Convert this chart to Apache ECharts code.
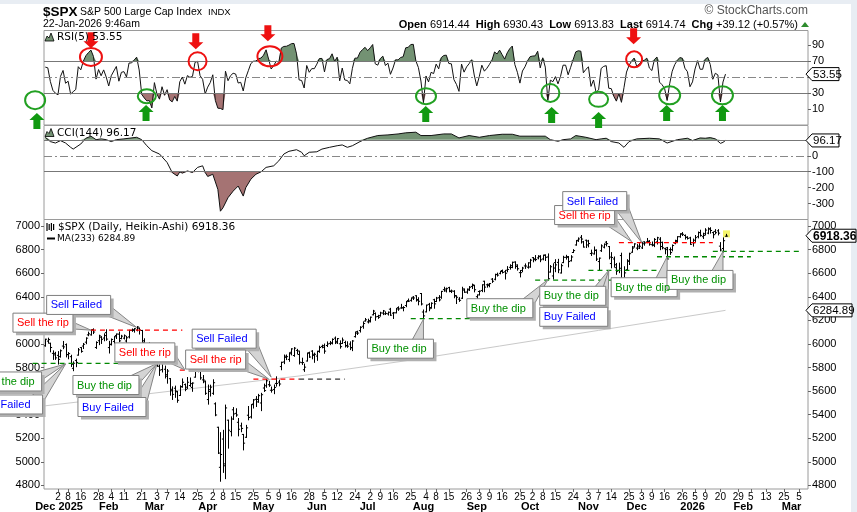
<!DOCTYPE html>
<html><head><meta charset="utf-8">
<script src="https://cdn.jsdelivr.net/npm/echarts@6/dist/echarts.min.js"></script>
<style>html,body{margin:0;padding:0;background:#fff}#c{width:857px;height:512px}</style>
</head><body><div id="c"></div>
<script>
// ---------- calendar (trading days) ----------
const holidays=['2024-12-25','2025-01-01','2025-01-09','2025-01-20','2025-02-17','2025-04-18','2025-05-26','2025-06-19','2025-07-04','2025-09-01','2025-11-27','2025-12-25','2026-01-01','2026-01-19','2026-02-16'];
const slotCount=301;
const dates=[];
(function(){let d=new Date(Date.UTC(2024,11,24));while(dates.length<slotCount){const w=d.getUTCDay();const s=d.toISOString().slice(0,10);if(w!==0&&w!==6&&holidays.indexOf(s)<0)dates.push(s);d.setUTCDate(d.getUTCDate()+1);}})();

// ---------- price bars ----------
const barOpen=[5984,6024,6006,5920,5920,5903,5892,5982,5994,5910,5892,5793,5859,5905,5969,5982,6015,6077,6077,6121,5970,6027,6057,6050,6096,5969,5998,6021,6072,6083,6046,6049,6025,6060,6115,6121,6118,6134,6114,6027,5983,5971,5981,5856,5968,5811,5782,5785,5726,5705,5603,5624,5594,5563,5635,5655,5633,5647,5631,5718,5776,5771,5695,5679,5528,5597,5581,5492,5293,4953,5193,4966,5353,5256,5441,5411,5335,5305,5232,5208,5395,5381,5490,5530,5508,5499,5626,5645,5654,5607,5614,5665,5676,5808,5847,5896,5869,5929,5902,5945,5910,5841,5781,5855,5925,5939,5903,5897,5939,5979,5985,5987,6005,6009,6049,6010,6001,6004,6012,5987,5999,5970,6062,6104,6113,6150,6194,6187,6188,6247,6259,6233,6240,6262,6255,6255,6295,6261,6264,6308,6305,6307,6326,6368,6370,6397,6409,6377,6428,6271,6272,6336,6309,6375,6360,6392,6397,6461,6450,6478,6445,6447,6406,6380,6388,6457,6440,6458,6488,6495,6401,6445,6454,6532,6502,6506,6550,6549,6590,6599,6623,6612,6626,6650,6649,6695,6670,6605,6624,6662,6651,6653,6732,6722,6730,6745,6721,6754,6738,6610,6577,6690,6692,6602,6690,6735,6741,6706,6776,6840,6880,6905,6866,6880,6874,6767,6764,6793,6699,6791,6821,6864,6826,6682,6721,6647,6623,6750,6550,6630,6701,6778,6823,6813,6830,6815,6866,6866,6872,6842,6838,6866,6889,6862,6808,6816,6800,6800,6855,6870,6910,6935,6920,6905,6900,6860,6880,6910,6945,6910,6935,6940,6975,6945,6955,6960,6830,6810,6914];
const barHigh=[6040,6049,6006,5941,5929,5935,5949,6021,6000,5927,5904,5848,5871,5961,5969,6004,6052,6100,6119,6128,6018,6074,6062,6086,6120,6022,6042,6062,6084,6101,6073,6076,6064,6116,6127,6130,6147,6134,6115,6044,5993,6010,5994,5959,5986,5865,5861,5812,5783,5706,5636,5642,5597,5645,5703,5660,5715,5711,5670,5775,5787,5784,5732,5685,5651,5650,5696,5500,5293,5247,5267,5481,5353,5381,5460,5450,5367,5328,5232,5309,5469,5485,5528,5553,5572,5581,5659,5700,5683,5634,5652,5721,5692,5845,5906,5906,5925,5959,5969,5954,5939,5879,5829,5922,5930,5943,5922,5938,5981,5990,5999,6017,6021,6043,6059,6046,6026,6050,6023,6018,6018,6028,6101,6108,6146,6187,6216,6210,6228,6285,6263,6243,6269,6284,6272,6271,6302,6267,6301,6315,6336,6316,6360,6381,6390,6402,6409,6392,6428,6288,6329,6344,6349,6379,6395,6410,6446,6481,6474,6481,6457,6452,6409,6393,6481,6467,6466,6487,6508,6498,6416,6450,6502,6532,6508,6513,6555,6592,6601,6616,6627,6624,6656,6672,6694,6697,6671,6623,6650,6679,6689,6718,6733,6750,6749,6749,6753,6756,6764,6665,6680,6715,6718,6677,6744,6752,6742,6749,6800,6877,6900,6920,6870,6881,6879,6796,6823,6799,6729,6841,6849,6869,6827,6775,6738,6683,6686,6770,6655,6715,6770,6826,6850,6843,6851,6862,6867,6895,6877,6865,6894,6905,6902,6864,6812,6819,6815,6840,6880,6910,6935,6945,6925,6910,6905,6890,6920,6950,6965,6940,6978,6985,6986,6950,6970,6970,6860,6900,6930];
const barLow=[5981,6007,5933,5869,5869,5829,5888,5960,5890,5874,5809,5773,5807,5905,5930,5961,6002,6070,6075,6088,5962,5994,6004,6027,6031,5923,5991,6007,6046,6019,6044,6042,6004,6051,6107,6100,6111,6084,6009,5977,5909,5944,5858,5837,5810,5733,5762,5711,5667,5565,5529,5547,5505,5563,5633,5603,5622,5640,5598,5718,5764,5700,5671,5572,5489,5558,5572,5391,5070,4835,4910,4857,5116,5220,5359,5386,5220,5255,5101,5207,5356,5371,5456,5469,5505,5434,5597,5632,5640,5591,5578,5642,5645,5781,5833,5867,5853,5907,5895,5915,5830,5826,5767,5855,5886,5874,5844,5861,5929,5967,5921,5978,5994,6000,6003,6004,5964,6004,5974,5971,5952,5943,6058,6080,6101,6133,6194,6178,6187,6247,6201,6217,6236,6249,6250,6245,6242,6216,6264,6285,6303,6281,6316,6360,6363,6377,6363,6332,6331,6212,6272,6282,6303,6303,6360,6365,6387,6447,6441,6443,6436,6392,6343,6361,6386,6438,6430,6454,6470,6442,6361,6415,6444,6443,6482,6485,6522,6544,6576,6595,6602,6551,6612,6635,6647,6642,6626,6569,6613,6641,6643,6651,6697,6706,6722,6698,6714,6708,6551,6610,6551,6613,6605,6602,6690,6720,6654,6704,6776,6838,6870,6856,6822,6818,6824,6751,6763,6708,6631,6785,6815,6832,6722,6646,6652,6591,6605,6560,6565,6625,6674,6778,6823,6800,6810,6810,6838,6859,6838,6832,6826,6848,6800,6807,6765,6720,6760,6790,6850,6865,6905,6920,6890,6890,6845,6830,6870,6900,6915,6895,6925,6935,6940,6900,6935,6925,6790,6780,6914];
const barClose=[6040,6037,5970,5907,5882,5869,5942,5975,5909,5918,5827,5836,5843,5950,5937,5997,6049,6086,6119,6101,6012,6068,6039,6071,6041,5994,6038,6061,6084,6026,6066,6069,6052,6115,6115,6129,6144,6118,6013,5983,5955,5956,5861,5955,5850,5778,5843,5739,5770,5615,5572,5599,5522,5639,5675,5615,5675,5663,5668,5768,5777,5712,5693,5581,5612,5633,5671,5397,5074,5062,4982,5457,5268,5363,5406,5397,5276,5283,5158,5288,5376,5485,5525,5529,5561,5569,5604,5687,5650,5607,5631,5664,5660,5844,5886,5892,5917,5958,5964,5940,5845,5842,5803,5922,5889,5912,5912,5936,5970,5971,5939,6000,6006,6038,6022,6045,5977,6033,5983,5981,5967,6025,6092,6092,6141,6173,6205,6198,6227,6279,6230,6226,6263,6280,6259,6269,6244,6264,6297,6297,6306,6309,6359,6363,6389,6390,6371,6362,6339,6238,6330,6299,6345,6340,6389,6374,6446,6466,6469,6450,6449,6411,6396,6370,6467,6439,6465,6481,6502,6460,6416,6448,6502,6482,6495,6512,6532,6588,6584,6615,6607,6600,6632,6664,6693,6657,6638,6605,6644,6661,6688,6711,6715,6716,6740,6714,6753,6735,6553,6655,6644,6671,6629,6664,6735,6735,6699,6738,6792,6875,6891,6890,6822,6840,6852,6771,6796,6720,6728,6832,6846,6851,6737,6734,6672,6617,6642,6539,6603,6705,6766,6813,6849,6813,6829,6850,6857,6870,6846,6840,6887,6901,6827,6816,6800,6721,6775,6835,6878,6910,6932,6930,6905,6896,6845,6858,6902,6945,6921,6921,6966,6977,6963,6927,6944,6940,6797,6876,6915];

// ---------- MA(233) ----------
const maDay=[0,41,100,141,179,218,268];
const maValue=[5475,5578,5728,5854,5982,6115,6285];

// ---------- RSI(5) ----------
const rsi=[62.3,61.4,44.3,33.3,29.7,27.7,50.7,58.1,42.1,44.7,28.6,31.6,34.3,62.8,58.9,69.7,76.5,80.4,83.5,75.5,47.3,59.2,51.5,58.8,50.0,38.7,51.5,57.4,63.1,44.7,55.8,56.6,50.0,67.4,67.5,71.0,74.7,58.7,28.2,23.8,20.1,20.5,11.3,42.9,28.6,22.3,37.8,27.1,34.1,21.3,18.9,25.6,19.8,44.0,49.9,41.0,51.7,49.5,50.7,68.2,69.5,51.5,47.0,28.8,37.3,43.0,52.7,20.7,11.0,10.7,9.1,57.2,45.3,51.6,54.6,53.7,42.4,43.3,32.5,49.0,57.8,66.7,69.6,69.9,72.8,73.6,77.2,83.9,72.2,59.9,64.2,69.8,68.2,86.2,88.1,88.3,89.7,91.6,91.8,78.8,46.3,45.6,36.2,64.3,55.8,60.4,60.3,66.0,73.0,73.1,56.3,71.7,72.9,78.9,69.4,74.7,45.2,61.1,46.2,45.6,41.4,60.8,73.5,73.5,80.7,84.2,87.0,82.9,86.3,90.5,66.4,64.7,72.9,76.0,64.3,67.2,53.3,61.2,71.4,71.3,74.3,75.2,86.4,87.0,90.5,90.7,70.1,61.8,44.9,17.9,51.2,43.8,55.8,54.2,66.0,60.1,74.1,76.8,77.2,66.8,66.4,46.7,40.7,32.0,66.1,56.0,62.6,66.6,71.5,52.4,38.8,50.6,64.7,57.2,60.9,65.7,71.0,81.2,78.7,83.5,77.8,72.3,80.1,85.3,88.6,65.5,55.8,42.3,57.4,62.7,70.1,75.3,76.1,76.3,82.1,61.3,73.9,62.3,20.8,46.0,44.1,50.4,41.4,50.6,64.7,64.7,52.7,62.1,71.9,81.3,82.7,82.2,55.2,59.5,62.6,38.2,46.2,30.9,33.9,60.6,63.2,64.1,35.9,35.4,25.8,19.8,29.1,18.3,36.6,56.1,64.4,69.8,73.6,63.5,66.1,69.7,70.8,73.5,61.1,58.0,71.8,74.9,43.5,40.3,35.6,20.6,41.5,57.1,65.4,70.7,74.2,73.4,60.9,56.6,37.8,43.8,60.0,70.3,59.6,59.6,72.1,74.4,65.4,47.1,54.6,52.5,18.8,43.7,53.55];

// ---------- CCI(144) ----------
const cciDay=[0,2,4,6,8,10,11,14,16,18,20,22,24,26,28,31,33,36,38,40,42,45,48,50,52,53,54,56,58,60,62,63,64,66,68,69,70,72,74,76,77,78,79,81,83,85,87,90,92,94,96,99,101,102,104,107,109,112,115,117,119,121,124,127,131,135,139,142,146,148,152,157,160,163,167,171,175,180,184,187,191,197,199,202,204,207,209,213,217,219,221,223,226,228,230,233,238,242,245,249,253,255,258,260,262,264,266,267,268];
const cciValue=[116,89,80,95,80,53,42,74,110,123,101,106,101,89,101,106,110,116,101,63,32,11,-42,-105,-127,-101,-109,-95,-105,-73,-63,-105,-130,-116,-211,-348,-327,-263,-222,-190,-222,-253,-200,-147,-116,-101,-73,-63,-32,11,28,38,22,0,22,25,42,53,63,68,53,63,89,110,127,131,137,144,148,127,127,137,137,112,127,116,127,135,135,123,123,123,101,91,101,106,127,116,101,106,110,89,80,53,89,106,110,106,80,101,110,95,112,110,114,106,78,84,96.17];

// ---------- axis tick labels ----------
const dayTickDates=['2025-01-02','2025-01-08','2025-01-16','2025-01-28','2025-02-04','2025-02-11','2025-02-21','2025-03-03','2025-03-07','2025-03-14','2025-03-25','2025-04-02','2025-04-08','2025-04-15','2025-04-25','2025-05-05','2025-05-09','2025-05-16','2025-05-28','2025-06-05','2025-06-12','2025-06-24','2025-07-02','2025-07-09','2025-07-16','2025-07-25','2025-08-04','2025-08-08','2025-08-15','2025-08-26','2025-09-03','2025-09-09','2025-09-16','2025-09-25','2025-10-02','2025-10-08','2025-10-15','2025-10-24','2025-11-03','2025-11-07','2025-11-14','2025-11-25','2025-12-03','2025-12-09','2025-12-16','2025-12-26','2026-01-05','2026-01-09','2026-01-20','2026-01-29','2026-02-05','2026-02-13','2026-02-25','2026-03-05'];
const monthLabelText=['Dec','2025','Feb','Mar','Apr','May','Jun','Jul','Aug','Sep','Oct','Nov','Dec','2026','Feb','Mar'];
const monthLabelDates=['2024-12-24','2025-01-10','2025-02-03','2025-02-28','2025-03-31','2025-05-01','2025-06-02','2025-07-01','2025-08-01','2025-09-02','2025-10-01','2025-11-03','2025-12-01','2026-01-02','2026-02-02','2026-03-02'];
const priceTicks=[4800,5000,5200,5400,5600,5800,6000,6200,6400,6600,6800,7000];
const rsiTicks=[10,30,50,70,90];
const cciTicks=[100,0,-100,-200,-300];

// ---------- annotations (anchor = [trading day, price]) ----------
const callouts=[
 {t:'Sell the rip',tip:[18,6117],dx:-78,dy:-17},
 {t:'Sell Failed',tip:[36,6140],dx:-90,dy:-32},
 {t:'Buy the dip',tip:[8,5830],dx:-90,dy:8},
 {t:'Buy Failed',tip:[8,5830],dx:-91,dy:31},
 {t:'Buy the dip',tip:[44,5834],dx:-84,dy:12},
 {t:'Buy Failed',tip:[44,5834],dx:-79,dy:34},
 {t:'Sell the rip',tip:[55,5780],dx:-70,dy:-27},
 {t:'Sell the rip',tip:[88,5702],dx:-83,dy:-29},
 {t:'Sell Failed',tip:[89,5718],dx:-79,dy:-48},
 {t:'Buy the dip',tip:[149,6210],dx:-56,dy:20},
 {t:'Buy the dip',tip:[198,6545],dx:-81,dy:19},
 {t:'Buy the dip',tip:[222,6625],dx:-69,dy:16},
 {t:'Buy Failed',tip:[222,6625],dx:-69,dy:37},
 {t:'Sell the rip',tip:[231,6869],dx:-77,dy:-36},
 {t:'Sell Failed',tip:[235,6860],dx:-79,dy:-51},
 {t:'Buy the dip',tip:[245,6740],dx:-56,dy:21},
 {t:'Buy the dip',tip:[267,6785],dx:-56,dy:19}
];
const dashLevels=[
 [6117,18,54,'#ff0000'],[5835,-5,53,'#008800'],[5778,53,81,'#ff0000'],[5702,82,100,'#ff0000'],[5702,100,118,'#333333'],
 [6215,144,180,'#008800'],[6541,193,224,'#008800'],[6625,214,245,'#008800'],[6860,226,263,'#ff0000'],
 [6740,241,278,'#008800'],[6785,263,298,'#008800']
];
const rsiCircles=[[18,75,11,9,'r'],[60,69.6,9,9,'r'],[88.5,75.8,12.5,10,'r'],[232,72,8,8,'r'],
 [-4,21,10,9,'g'],[40,26,9,7,'g'],[150,26,10,8,'g'],[199,30,9,9,'g'],[218,22,9.5,7.5,'g'],[246,27,10.5,9,'g'],[266.8,27,10.5,9,'g']];
const rsiArrows=[[18,85.7,'d'],[59.3,84.6,'d'],[87.7,94.5,'d'],[231.8,90.8,'d'],
 [-3.3,4.9,'u'],[39.7,14.9,'u'],[149.9,13.7,'u'],[199.5,12.4,'u'],[218,6.2,'u'],[244.8,14.9,'u'],[266.8,14.9,'u']];

// ---------- build ----------
const FONT='"Liberation Sans", Arial, sans-serif';
const FONT2='"DejaVu Sans", Verdana, sans-serif';
const GREEN_FILL='#739273', BROWN_FILL='#a57373';
const tickSet=new Set(dayTickDates);
const monthMap={};monthLabelDates.forEach((d,k)=>{monthMap[d]=monthLabelText[k];});
const ohlc=barOpen.map((o,i)=>[i,o,barHigh[i],barLow[i],barClose[i]]);
const cciPairs=cciDay.map((d,k)=>[d,cciValue[k]]);
const maPairs=maDay.map((d,k)=>[d,maValue[k]]);

const gridBase={left:44,right:49,show:true,borderColor:'#9a9a9a',borderWidth:1,backgroundColor:'#fff'};
const hiddenX=g=>({type:'category',gridIndex:g,data:dates,boundaryGap:true,axisLine:{show:false},axisTick:{show:false},axisLabel:{show:false},splitLine:{show:false}});
const yLab={fontSize:11,color:'#000',fontFamily:FONT,margin:4,formatter:v=>String(v)};

const chart=echarts.init(document.getElementById('c'),null,{renderer:'canvas'});
const fillSeries=(xi,stack,data,color)=>({type:'line',xAxisIndex:xi,yAxisIndex:xi,stack:stack,stackStrategy:'all',data:data,symbol:'none',lineStyle:{opacity:0,width:0},areaStyle:color?{color:color,opacity:1}:undefined,silent:true,z:1});
chart.setOption({
 animation:false,backgroundColor:'#fff',
 grid:[Object.assign({top:30.5,height:94.5},gridBase),Object.assign({top:125.5,height:94},gridBase),Object.assign({top:219.5,height:272.5},gridBase)],
 xAxis:[hiddenX(0),hiddenX(1),
  {type:'category',gridIndex:2,data:dates,boundaryGap:true,axisLine:{show:false},splitLine:{show:false},
   axisTick:{show:true,length:3,alignWithLabel:true,interval:(i,v)=>tickSet.has(v),lineStyle:{color:'#666'}},
   axisLabel:{interval:(i,v)=>tickSet.has(v),formatter:v=>String(+v.slice(8)),fontSize:10,color:'#000',fontFamily:FONT,margin:3}},
  {type:'category',gridIndex:2,data:dates,boundaryGap:true,position:'bottom',offset:9,axisLine:{show:false},axisTick:{show:false},splitLine:{show:false},
   axisLabel:{interval:(i,v)=>monthMap[v]!==undefined,formatter:v=>monthMap[v]||'',fontSize:11,fontWeight:'bold',color:'#000',fontFamily:FONT,margin:3}}],
 yAxis:[
  {type:'value',gridIndex:0,position:'right',min:-10,max:108,splitLine:{show:false},axisLine:{show:false},
   axisTick:{show:true,length:3,customValues:rsiTicks,lineStyle:{color:'#666'}},axisLabel:Object.assign({customValues:rsiTicks},yLab)},
  {type:'value',gridIndex:1,position:'right',min:-400,max:190,splitLine:{show:false},axisLine:{show:false},
   axisTick:{show:true,length:3,customValues:cciTicks,lineStyle:{color:'#666'}},axisLabel:Object.assign({customValues:cciTicks},yLab)},
  {type:'value',gridIndex:2,position:'right',min:4769,max:7056,splitLine:{show:false},axisLine:{show:false},
   axisTick:{show:true,length:3,customValues:priceTicks,lineStyle:{color:'#666'}},axisLabel:Object.assign({customValues:priceTicks},yLab)},
  {type:'value',gridIndex:2,position:'left',min:4769,max:7056,splitLine:{show:false},axisLine:{show:false},
   axisTick:{show:true,length:3,customValues:priceTicks,lineStyle:{color:'#666'}},axisLabel:Object.assign({customValues:priceTicks},yLab)}
 ],
 series:[
  fillSeries(0,'rh',rsi.map(()=>70)),
  fillSeries(0,'rh',rsi.map(v=>Math.max(v-70,0)),GREEN_FILL),
  fillSeries(0,'rl',rsi.map(v=>Math.min(v,30))),
  fillSeries(0,'rl',rsi.map(v=>30-Math.min(v,30)),BROWN_FILL),
  {type:'line',xAxisIndex:0,yAxisIndex:0,data:rsi,symbol:'none',lineStyle:{color:'#111',width:1},silent:true,z:4,
   markLine:{silent:true,symbol:'none',label:{show:false},animation:false,
    data:[{yAxis:70,lineStyle:{color:'#777',width:1,type:'solid'}},{yAxis:30,lineStyle:{color:'#777',width:1,type:'solid'}},{yAxis:50,lineStyle:{color:'#888',width:1,type:[8,3,2,3]}}]}},
  fillSeries(1,'ch',cciPairs.map(p=>[p[0],100])),
  fillSeries(1,'ch',cciPairs.map(p=>[p[0],Math.max(p[1]-100,0)]),GREEN_FILL),
  fillSeries(1,'cl',cciPairs.map(p=>[p[0],Math.min(p[1],-100)])),
  fillSeries(1,'cl',cciPairs.map(p=>[p[0],-100-Math.min(p[1],-100)]),BROWN_FILL),
  {type:'line',xAxisIndex:1,yAxisIndex:1,data:cciPairs,symbol:'none',lineStyle:{color:'#111',width:1},silent:true,z:4,
   markLine:{silent:true,symbol:'none',label:{show:false},animation:false,
    data:[{yAxis:100,lineStyle:{color:'#777',width:1,type:'solid'}},{yAxis:-100,lineStyle:{color:'#777',width:1,type:'solid'}},{yAxis:0,lineStyle:{color:'#888',width:1,type:[8,3,2,3]}}]}},
  {type:'line',xAxisIndex:2,yAxisIndex:2,data:maPairs,symbol:'none',lineStyle:{color:'#c9c9c9',width:1},silent:true,z:2},
  {type:'custom',xAxisIndex:2,yAxisIndex:2,data:ohlc,encode:{x:0,y:[1,2,3,4]},silent:true,z:5,
   renderItem:function(params,api){
     const i=api.value(0);
     const o=api.coord([i,api.value(1)]),h=api.coord([i,api.value(2)]),l=api.coord([i,api.value(3)]),c=api.coord([i,api.value(4)]);
     const x=Math.round(o[0])+0.5;
     const st={stroke:'#000',lineWidth:1};
     return {type:'group',children:[
       {type:'line',shape:{x1:x,y1:h[1]-0.5,x2:x,y2:l[1]+0.5},style:st},
       {type:'line',shape:{x1:x-1.6,y1:o[1],x2:x,y2:o[1]},style:st},
       {type:'line',shape:{x1:x,y1:c[1],x2:x+1.6,y2:c[1]},style:st}]};
   }}
 ]
});

// ---------- annotation graphics ----------
function px(g,idx,val){const p0=chart.convertToPixel({gridIndex:g},[0,val]);const p1=chart.convertToPixel({gridIndex:g},[1,val]);return [p0[0]+(p1[0]-p0[0])*idx,p0[1]];}
const BW={'Sell the rip':60,'Sell Failed':64,'Buy the dip':66,'Buy Failed':68};
const BC={'Sell the rip':'#ff0000','Sell Failed':'#0000ff','Buy the dip':'#009000','Buy Failed':'#0000ff'};
const els=[];
const txt=(x,y,text,font,fill,align,z)=>({type:'text',x:x,y:y,z:z||200,style:{text:text,font:font,fill:fill||'#000',textAlign:align||'left',textVerticalAlign:'middle'}});
els.push({type:'rect',shape:{x:0,y:0,width:857,height:4},style:{fill:'#e8edf3'},z:1});
els.push({type:'rect',shape:{x:851,y:0,width:6,height:512},style:{fill:'#e8edf3'},z:1});
els.push(txt(43,12,'$SPX','bold 13.5px '+FONT));
els.push(txt(80,12.5,'S&P 500 Large Cap Index','10.5px '+FONT));
els.push(txt(208,12.5,'INDX','9.5px '+FONT));
els.push(txt(43,24.5,'22-Jan-2026 9:46am','10.5px '+FONT));
els.push(txt(808,11,'\u00A9 StockCharts.com','12px '+FONT,'#555','right'));
els.push({type:'text',x:798,y:24.5,z:200,style:{text:'{b|Open} 6914.44  {b|High} 6930.43  {b|Low} 6913.83  {b|Last} 6914.74  {b|Chg} +39.12 (+0.57%)',font:'11px '+FONT,fill:'#000',textAlign:'right',textVerticalAlign:'middle',rich:{b:{fontWeight:'bold',fontSize:11,fontFamily:FONT,fill:'#000'}}}});
els.push({type:'polygon',shape:{points:[[801,27],[809,27],[805,22]]},style:{fill:'#2e8b2e'},z:200});
function mountain(x,y){return {type:'polygon',shape:{points:[[x,y+8],[x+2,y+3],[x+4,y+5],[x+6,y],[x+9,y+8]]},style:{fill:GREEN_FILL,stroke:'#000',lineWidth:0.8},z:200};}
els.push(mountain(45,33));
els.push(txt(57,37.5,'RSI(5) 53.55','10.5px '+FONT2));
els.push(mountain(45,128.5));
els.push(txt(57,133,'CCI(144) 96.17','10.5px '+FONT2));
for(let k=0;k<4;k++)els.push({type:'line',shape:{x1:47+k*2.2,y1:223+(k%2),x2:47+k*2.2,y2:231-(k%2)},style:{stroke:'#000',lineWidth:1.2},z:200});
els.push(txt(58,227.5,'$SPX (Daily, Heikin-Ashi) 6918.36','10.5px '+FONT2));
els.push({type:'line',shape:{x1:47,y1:238.5,x2:55,y2:238.5},style:{stroke:'#000',lineWidth:2},z:200});
els.push(txt(57,238.5,'MA(233) 6284.89','9px '+FONT2));
dashLevels.forEach(L=>{const a=px(2,L[1],L[0]),b=px(2,L[2],L[0]);els.push({type:'line',shape:{x1:a[0],y1:a[1],x2:b[0],y2:b[1]},style:{stroke:L[3],lineWidth:1.3,lineDash:[5,4]},z:150});});
callouts.forEach(a=>{
  const tp=px(2,a.tip[0],a.tip[1]);const bw=BW[a.t],bh=19;const bx=tp[0]+a.dx,by=tp[1]+a.dy;
  const cx=Math.min(Math.max(tp[0],bx),bx+bw),cy=Math.min(Math.max(tp[1],by),by+bh);
  const sx=tp[0]>bx+bw/2?-1:1,sy=tp[1]>by+bh/2?-1:1;
  els.push({type:'polygon',shape:{points:[[cx+sx*12,cy+sy*2],[tp[0],tp[1]],[cx,cy+sy*8]]},style:{fill:'#d4d4d4',stroke:'#858585',lineWidth:1},z:160});
  els.push({type:'rect',shape:{x:bx+3,y:by+3,width:bw,height:bh},style:{fill:'#b0b0b0'},z:161});
  els.push({type:'rect',shape:{x:bx,y:by,width:bw,height:bh},style:{fill:'#fff',stroke:'#7f7f7f',lineWidth:1},z:162});
  els.push(txt(bx+4,by+bh/2+0.5,a.t,'11px '+FONT,BC[a.t],'left',163));
});
{const last=barHigh.length-1;const p=px(2,last,barHigh[last]);els.push({type:'rect',shape:{x:Math.round(p[0])-3,y:p[1]-4,width:7,height:7},style:{fill:'#f4f46a'},z:4});}
rsiCircles.forEach(c=>{const p=px(0,c[0],c[1]);els.push({type:'ellipse',shape:{cx:p[0],cy:p[1],rx:c[2],ry:c[3]},style:{fill:'none',stroke:c[4]==='r'?'#ee1111':'#22a022',lineWidth:2},z:180});});
rsiArrows.forEach(a=>{const p=px(0,a[0],a[1]);const x=p[0],y=p[1];const col=a[2]==='d'?'#ee1111':'#119911';
  if(a[2]==='d'){els.push({type:'polygon',shape:{points:[[x-3.5,y-16],[x+3.5,y-16],[x+3.5,y-7],[x+7.5,y-7],[x,y],[x-7.5,y-7],[x-3.5,y-7]]},style:{fill:col},z:181});}
  else{els.push({type:'polygon',shape:{points:[[x,y],[x+7.5,y+7],[x+3.5,y+7],[x+3.5,y+16],[x-3.5,y+16],[x-3.5,y+7],[x-7.5,y+7]]},style:{fill:col},z:181});}
});
function valBox(g,v,label,bold,w){const y=px(g,0,v)[1];const x0=806;
  els.push({type:'polygon',shape:{points:[[x0,y],[x0+6,y-6.5],[x0+w,y-6.5],[x0+w,y+6.5],[x0+6,y+6.5]]},style:{fill:'#fff',stroke:'#000',lineWidth:1},z:190});
  els.push(txt(x0+7,y+0.5,label,(bold?'bold 12px ':'11.5px ')+FONT,'#000','left',191));}
valBox(0,53.55,'53.55',false,33);
valBox(1,96.17,'96.17',false,33);
valBox(2,6918.36,'6918.36',true,50);
valBox(2,6284.89,'6284.89',false,46);
chart.setOption({graphic:{elements:els}});
</script></body></html>
